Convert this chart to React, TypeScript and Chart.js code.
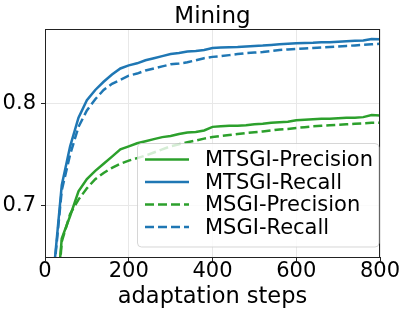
import React, { useEffect, useRef } from 'react';
import { Chart, registerables } from 'chart.js';

Chart.register(...registerables);

const FONT = '"DejaVu Sans", sans-serif';

const chartTitle = 'Mining';
const xAxisTitle = 'adaptation steps';
const xTickValues = [0, 200, 400, 600, 800];
const yTickValues = [0.7, 0.8];

const steps = [
  0, 20, 40, 60, 80, 100, 120, 140, 160, 180, 200, 220, 240, 260, 280, 300, 320, 340, 360, 380, 400,
  420, 440, 460, 480, 500, 520, 540, 560, 580, 600, 620, 640, 660, 680, 700, 720, 740, 760, 780, 800,
];

const seriesLabels = ['MTSGI-Precision', 'MTSGI-Recall', 'MSGI-Precision', 'MSGI-Recall'];

const mtsgiPrecision = [
  0.45, 0.57, 0.668, 0.69, 0.714, 0.726, 0.734, 0.741, 0.748, 0.755, 0.758, 0.761, 0.763, 0.765, 0.767,
  0.768, 0.77, 0.7715, 0.772, 0.7735, 0.777, 0.7775, 0.778, 0.778, 0.7785, 0.7795, 0.78, 0.781, 0.7815,
  0.782, 0.7835, 0.784, 0.7845, 0.785, 0.785, 0.7855, 0.786, 0.786, 0.7865, 0.7885, 0.788,
];

const mtsgiRecall = [
  0.45, 0.632, 0.72, 0.758, 0.786, 0.803, 0.813, 0.821, 0.828, 0.834, 0.837, 0.839, 0.842, 0.844, 0.846,
  0.848, 0.849, 0.8505, 0.851, 0.852, 0.854, 0.8545, 0.8548, 0.855, 0.8555, 0.856, 0.8563, 0.857, 0.8575,
  0.858, 0.8585, 0.8588, 0.859, 0.8595, 0.8595, 0.86, 0.8605, 0.861, 0.8612, 0.8628, 0.8625,
];

const msgiPrecision = [
  0.45, 0.56, 0.665, 0.692, 0.706, 0.717, 0.726, 0.732, 0.737, 0.741, 0.744, 0.7465, 0.749, 0.752, 0.755,
  0.758, 0.76, 0.762, 0.7637, 0.7655, 0.767, 0.768, 0.769, 0.77, 0.771, 0.7718, 0.7725, 0.7735, 0.7745,
  0.775, 0.776, 0.7767, 0.7775, 0.778, 0.7785, 0.779, 0.7795, 0.78, 0.7805, 0.781, 0.781,
];

const msgiRecall = [
  0.45, 0.63, 0.715, 0.75, 0.777, 0.793, 0.804, 0.813, 0.819, 0.823, 0.827, 0.829, 0.832, 0.834, 0.836,
  0.838, 0.8388, 0.84, 0.842, 0.844, 0.8453, 0.846, 0.847, 0.848, 0.849, 0.8495, 0.85, 0.851, 0.852,
  0.8525, 0.853, 0.8535, 0.854, 0.8545, 0.855, 0.8555, 0.856, 0.8565, 0.857, 0.8575, 0.858,
];

const GREEN = '#2ca02c';
const BLUE = '#1f77b4';

const framePlugin = {
  id: 'frameAndLegend',
  afterDatasetsDraw(chart: any) {
    const { ctx, chartArea } = chart;
    const { left, right, top, bottom } = chartArea;
    ctx.save();
    // spines
    ctx.strokeStyle = '#222';
    ctx.lineWidth = 1;
    ctx.setLineDash([]);
    ctx.beginPath();
    ctx.moveTo(left, top + 0.5);
    ctx.lineTo(right, top + 0.5);
    ctx.moveTo(right - 0.5, top);
    ctx.lineTo(right - 0.5, bottom);
    ctx.stroke();

    // legend box
    const bx = 137.5;
    const by = 143.5;
    const bw = right - 1 - bx;
    const bh = 103.5;
    const r = 4;
    ctx.beginPath();
    ctx.moveTo(bx + r, by);
    ctx.lineTo(bx + bw - r, by);
    ctx.arcTo(bx + bw, by, bx + bw, by + r, r);
    ctx.lineTo(bx + bw, by + bh - r);
    ctx.arcTo(bx + bw, by + bh, bx + bw - r, by + bh, r);
    ctx.lineTo(bx + r, by + bh);
    ctx.arcTo(bx, by + bh, bx, by + bh - r, r);
    ctx.lineTo(bx, by + r);
    ctx.arcTo(bx, by, bx + r, by, r);
    ctx.closePath();
    ctx.fillStyle = 'rgba(255,255,255,0.8)';
    ctx.fill();
    ctx.strokeStyle = 'rgba(204,204,204,0.8)';
    ctx.lineWidth = 1;
    ctx.stroke();

    const rowY0 = 159.5;
    const rowGap = 22.5;
    chart.data.datasets.forEach((ds: any, i: number) => {
      const y = rowY0 + i * rowGap;
      ctx.beginPath();
      ctx.strokeStyle = ds.borderColor;
      ctx.lineWidth = 2.5;
      ctx.setLineDash(ds.borderDash || []);
      ctx.moveTo(145, y);
      ctx.lineTo(189, y);
      ctx.stroke();
      ctx.setLineDash([]);
      ctx.fillStyle = '#000';
      ctx.font = `21px ${FONT}`;
      ctx.textAlign = 'left';
      ctx.textBaseline = 'alphabetic';
      ctx.fillText(ds.label, 205, y + 6.8);
    });
    ctx.restore();
  },
};

export default function App() {
  const canvasRef = useRef<HTMLCanvasElement | null>(null);

  useEffect(() => {
    if (!canvasRef.current) return;
    const mk = (label: string, values: number[], color: string, dashed: boolean) => ({
      label,
      data: steps.map((s, i) => ({ x: s, y: values[i] })),
      borderColor: color,
      backgroundColor: color,
      borderWidth: 2.5,
      borderDash: dashed ? [9, 4] : [],
      pointRadius: 0,
      tension: 0,
      fill: false,
    });
    const chart = new Chart(canvasRef.current, {
      type: 'line',
      data: {
        datasets: [
          mk(seriesLabels[0], mtsgiPrecision, GREEN, false),
          mk(seriesLabels[1], mtsgiRecall, BLUE, false),
          mk(seriesLabels[2], msgiPrecision, GREEN, true),
          mk(seriesLabels[3], msgiRecall, BLUE, true),
        ],
      },
      options: {
        animation: false,
        responsive: false,
        events: [],
        layout: { padding: { left: 0, right: 27, top: 0, bottom: 0 }, autoPadding: false },
        plugins: {
          legend: { display: false },
          tooltip: { enabled: false },
          title: {
            display: true,
            fullSize: false,
            text: chartTitle,
            color: '#000',
            font: { family: FONT, size: 23, weight: 'normal', lineHeight: 1 },
            padding: { top: 5.5, bottom: 0.5 },
          },
        },
        scales: {
          x: {
            type: 'linear',
            min: 0,
            max: 800,
            afterFit: (s: any) => {
              s.height = 58;
            },
            afterBuildTicks: (s: any) => {
              s.ticks = xTickValues.map((v) => ({ value: v }));
            },
            grid: { color: '#e8e8e8', lineWidth: 1, tickColor: '#222', tickLength: 4, drawTicks: true },
            border: { color: '#222', width: 1 },
            ticks: {
              color: '#000',
              font: { family: FONT, size: 21, lineHeight: 1 },
              padding: 0,
              maxRotation: 0,
              autoSkip: false,
              callback: (v: any) => String(v),
            },
            title: {
              display: true,
              text: xAxisTitle,
              color: '#000',
              font: { family: FONT, size: 22.5 },
              padding: { top: 0, bottom: 4 },
            },
          },
          y: {
            type: 'linear',
            min: 0.65,
            max: 0.8725,
            afterFit: (s: any) => {
              s.width = 45;
            },
            afterBuildTicks: (s: any) => {
              s.ticks = yTickValues.map((v) => ({ value: v }));
            },
            grid: { color: '#e8e8e8', lineWidth: 1, tickColor: '#222', tickLength: 4, drawTicks: true },
            border: { color: '#222', width: 1 },
            ticks: {
              color: '#000',
              font: { family: FONT, size: 21 },
              padding: 5,
              autoSkip: false,
              callback: (v: any) => Number(v).toFixed(1),
            },
          },
        },
      },
      plugins: [framePlugin],
    } as any);
    return () => chart.destroy();
  }, []);

  return (
    <div style={{ position: 'absolute', left: 0, top: 0, width: 407, height: 315, background: '#fff' }}>
      <canvas ref={canvasRef} width={407} height={315} />
    </div>
  );
}
